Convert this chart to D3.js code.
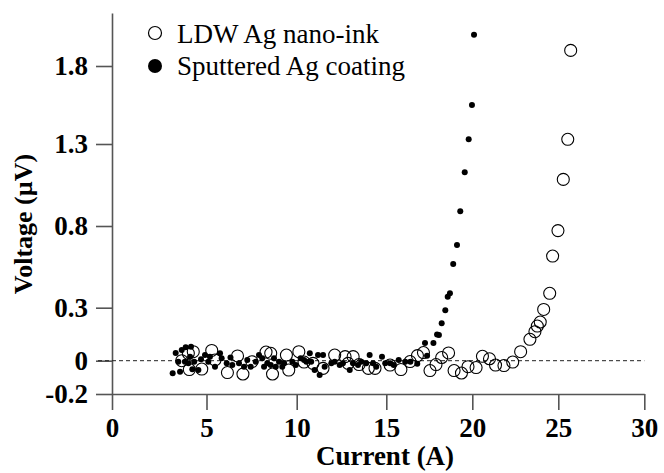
<!DOCTYPE html>
<html>
<head>
<meta charset="utf-8">
<script src="https://cdnjs.cloudflare.com/ajax/libs/d3/7.8.5/d3.min.js"></script>
<style>
  body { margin: 0; background: #fff; }
  svg text { font-family: "Liberation Serif", "Times New Roman", Times, serif; }
</style>
</head>
<body>
<div class="vi_chart"></div>
<script>
// LDW Ag nano-ink (open circles)
var ldwCurrent = [3.69, 4.04, 4.09, 4.30, 4.75, 5.29, 5.47, 6.16, 6.72, 7.02, 7.52, 8.30, 8.56, 8.66,
    9.43, 9.56, 10.12, 10.41, 10.91, 11.47, 12.12, 12.70, 12.87, 13.15, 13.48, 14.00, 14.37, 15.22,
    15.85, 16.38, 16.81, 17.16, 17.54, 17.89, 18.22, 18.62, 18.94, 19.37, 19.75, 20.22, 20.59, 21.00,
    21.35, 21.84, 22.35, 22.81, 23.35, 23.64, 23.78, 23.95, 24.15, 24.50, 24.67, 24.98, 25.29, 25.55, 25.72];
var ldwVoltage = [0.00, 0.042, -0.053, 0.051, -0.05, 0.058, 0.004, -0.071, 0.027, -0.08, -0.006, 0.049, 0.042, -0.08,
    0.032, -0.056, 0.051, -0.008, -0.016, -0.046, 0.032, 0.023, -0.016, 0.023, -0.023, -0.046, -0.046, -0.026,
    -0.053, -0.005, 0.029, 0.046, -0.059, -0.023, 0.018, 0.044, -0.059, -0.074, -0.036, -0.041, 0.025, 0.011,
    -0.026, -0.029, -0.008, 0.051, 0.121, 0.164, 0.196, 0.219, 0.29, 0.388, 0.616, 0.772, 1.084, 1.33, 1.90];

// Sputtered Ag coating (filled dots)
var sputCurrent = [3.21, 3.37, 3.51, 3.60, 3.69, 3.86, 3.90, 4.04, 4.13, 4.18, 4.25, 4.35, 4.57, 4.71, 4.92,
    5.10, 5.19, 5.47, 5.75, 5.84, 6.12, 6.33, 6.43, 6.80, 7.08, 7.26, 7.45, 7.73, 7.91, 8.09, 8.19, 8.37,
    8.56, 8.74, 8.84, 9.02, 9.20, 9.30, 9.76, 9.95, 10.22, 10.41, 10.54, 10.73, 10.81, 11.00, 11.19, 11.28,
    11.47, 11.56, 11.93, 12.12, 12.40, 12.58, 12.96, 13.14, 13.42, 13.60, 13.88, 14.07, 14.26, 14.44, 14.76,
    14.94, 15.23, 15.43, 15.72, 16.10, 16.40, 16.80, 17.25, 17.37, 17.74, 17.95, 18.06, 18.22, 18.43, 18.57,
    18.70, 18.89, 19.11, 19.30, 19.56, 19.79, 19.98, 20.10];
var sputVoltage = [-0.076, 0.044, -0.006, -0.066, 0.061, -0.006, 0.076, -0.016, 0.023, 0.079, -0.052, -0.006, -0.056, 0.008, 0.032,
    -0.006, 0.023, -0.036, 0.042, 0.014, -0.016, 0.018, -0.026, -0.016, -0.036, 0.004, -0.036, -0.006, 0.032, 0.014, -0.036, -0.016,
    -0.026, 0.014, -0.036, -0.006, -0.036, -0.016, -0.006, -0.026, 0.014, 0.004, -0.006, 0.042, -0.006, -0.056, 0.032, -0.086,
    0.032, -0.036, -0.016, -0.006, -0.026, -0.016, -0.056, -0.016, -0.026, -0.006, -0.016, 0.032, -0.016, -0.036, 0.023,
    -0.016, -0.016, -0.026, 0.004, -0.006, -0.006, -0.019, 0.10, 0.028, 0.10, 0.149, 0.145, 0.212, 0.285, 0.367,
    0.388, 0.567, 0.684, 0.89, 1.127, 1.33, 1.55, 2.00];

var xTicks = [0, 5, 10, 15, 20, 25, 30];
var yTicks = [-0.2, 0, 0.3, 0.8, 1.3, 1.8];
var yTickLabels = ["-0.2", "0", "0.3", "0.8", "1.3", "1.8"];
var legendLabels = ["LDW Ag nano-ink", "Sputtered Ag coating"];

var width = 664, height = 473;
var serif = "Liberation Serif, Times New Roman, serif";

var svg = d3.select(".vi_chart")
    .append("svg")
    .attr("width", width)
    .attr("height", height);

// the printed axes are not quite evenly spaced, so the scales go through every tick
var x = d3.scaleLinear()
    .domain(xTicks)
    .range([112, 206.5, 296.7, 386.3, 472.3, 558.3, 644.3]);
var y = d3.scaleLinear()
    .domain(yTicks.concat([2.14]))
    .range([394, 360.7, 307.7, 226, 144, 66, 13]);

var axisColor = "#555";

// x axis
var gx = svg.append("g")
    .attr("transform", "translate(0," + y(-0.2) + ")")
    .call(d3.axisBottom(x).tickValues(xTicks).tickSize(16).tickSizeOuter(0).tickPadding(8));
// y axis
var gy = svg.append("g")
    .attr("transform", "translate(" + x(0) + ",0)")
    .call(d3.axisLeft(y).tickValues(yTicks).tickSize(16).tickSizeOuter(0).tickPadding(8)
        .tickFormat(function(d, i) { return yTickLabels[i]; }));

[gx, gy].forEach(function(g) {
    g.attr("font-family", serif);
    g.select(".domain").attr("stroke", axisColor).attr("stroke-width", 1.6);
    g.selectAll(".tick line").attr("stroke", axisColor).attr("stroke-width", 1.6);
    g.selectAll(".tick text")
        .attr("fill", "#000")
        .attr("font-size", "27px")
        .attr("font-weight", "bold")
        .attr("font-family", serif);
});

// zero reference line
svg.append("line")
    .attr("x1", x(0) - 14)
    .attr("x2", x(30))
    .attr("y1", y(0))
    .attr("y2", y(0))
    .attr("stroke", "#222")
    .attr("stroke-width", 1)
    .attr("stroke-dasharray", "4,3");

var ldw = ldwCurrent.map(function(c, i) { return { c: c, v: ldwVoltage[i] }; });
var sput = sputCurrent.map(function(c, i) { return { c: c, v: sputVoltage[i] }; });

svg.append("g").selectAll("circle")
    .data(sput)
    .enter()
    .append("circle")
    .attr("cx", function(d) { return x(d.c); })
    .attr("cy", function(d) { return y(d.v); })
    .attr("r", 3)
    .attr("fill", "#000");

svg.append("g").selectAll("circle")
    .data(ldw)
    .enter()
    .append("circle")
    .attr("cx", function(d) { return x(d.c); })
    .attr("cy", function(d) { return y(d.v); })
    .attr("r", 6)
    .attr("fill", "none")
    .attr("stroke", "#000")
    .attr("stroke-width", 1.1);

// legend
var legend = svg.append("g").attr("transform", "translate(155,33)");
legend.append("circle")
    .attr("cx", 0).attr("cy", 0).attr("r", 6.5)
    .attr("fill", "none").attr("stroke", "#000").attr("stroke-width", 1.2);
legend.append("circle")
    .attr("cx", 0).attr("cy", 33).attr("r", 7)
    .attr("fill", "#000");
legend.selectAll("text")
    .data(legendLabels)
    .enter()
    .append("text")
    .attr("x", 22)
    .attr("y", function(d, i) { return 10 + i * 32; })
    .attr("font-family", serif)
    .attr("font-size", "27px")
    .text(function(d) { return d; });

// axis titles
svg.append("text")
    .attr("x", 385)
    .attr("y", 465)
    .attr("text-anchor", "middle")
    .attr("font-family", serif)
    .attr("font-size", "27px")
    .attr("font-weight", "bold")
    .text("Current (A)");

svg.append("text")
    .attr("transform", "translate(32,224) rotate(-90)")
    .attr("text-anchor", "middle")
    .attr("font-family", serif)
    .attr("font-size", "26px")
    .attr("font-weight", "bold")
    .text("Voltage (µV)");
</script>
</body>
</html>
